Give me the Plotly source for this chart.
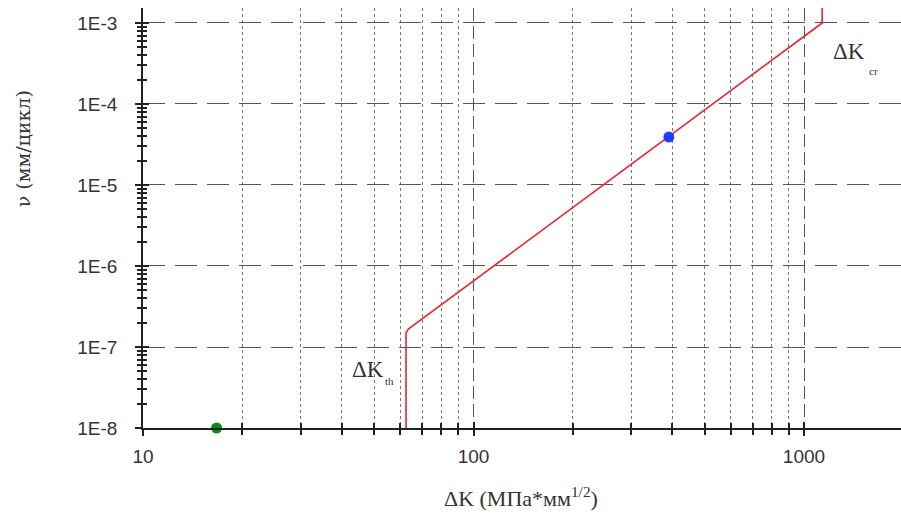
import plotly.graph_objects as go
import math

# Crack growth curve: threshold, Paris region, critical
dk_curve = [62.5, 62.5, 63.5, 1135, 1135]
v_curve = [1e-8, 1.5e-7, 1.66e-7, 1e-3, 1.55e-3]

# Marked points
dk_blue = [390]
v_blue = [3.9e-5]
dk_green = [16.7]
v_green = [1e-8]

y_tickvals = [1e-8, 1e-7, 1e-6, 1e-5, 1e-4, 1e-3]
y_ticktext = ["1E-8", "1E-7", "1E-6", "1E-5", "1E-4", "1E-3"]
x_tickvals = [10, 100, 1000]
x_ticktext = ["10", "100", "1000"]

x_range = [1, 3.2935]
y_range = [-8, -2.815]

# log-spaced minor positions (2..9 within each decade)
x_minor = [m * 10 ** d for d in range(1, 4) for m in range(2, 10)]
y_minor = [m * 10.0 ** d for d in range(-8, -2) for m in range(2, 10)]

serif = "Liberation Serif, Times New Roman, serif"
sans = "Liberation Sans, Arial, sans-serif"
ink = "#333333"

fig = go.Figure()
fig.add_trace(go.Scatter(x=dk_curve, y=v_curve, mode="lines",
                         line=dict(color="#e8262e", width=1.6), showlegend=False))
fig.add_trace(go.Scatter(x=dk_blue, y=v_blue, mode="markers",
                         marker=dict(color="#1f3cff", size=11), showlegend=False))
fig.add_trace(go.Scatter(x=dk_green, y=v_green, mode="markers",
                         marker=dict(color="#0a8a1a", size=11), showlegend=False,
                         cliponaxis=False))

fig.update_xaxes(
    type="log", range=x_range,
    tickvals=x_tickvals, ticktext=x_ticktext,
    tickfont=dict(family=sans, size=19, color=ink),
    ticks="outside", ticklen=6, tickcolor="#222", tickwidth=1.5,
    ticklabelstandoff=4,
    showline=True, linecolor="#222", linewidth=1.5,
    showgrid=True, gridcolor="#555", gridwidth=1, griddash="13px,5px",
    minor=dict(tickvals=x_minor, ticks="outside", ticklen=5, tickcolor="#222",
               showgrid=True, gridcolor="#777", griddash="dot", gridwidth=1),
    zeroline=False,
)
fig.update_yaxes(
    type="log", range=y_range,
    tickvals=y_tickvals, ticktext=y_ticktext,
    tickfont=dict(family=sans, size=19, color=ink),
    ticks="outside", ticklen=6, tickcolor="#222", tickwidth=1.5,
    ticklabelstandoff=14,
    showline=True, linecolor="#222", linewidth=1.5,
    showgrid=True, gridcolor="#555", gridwidth=1, griddash="22px,10px",
    minor=dict(tickvals=y_minor, ticks="outside", ticklen=4, tickcolor="#222",
               showgrid=False),
    zeroline=False,
)

# inner halves of the tick marks, so ticks cross the axis lines
fig.update_layout(
    xaxis2=dict(type="log", range=x_range, overlaying="x", anchor="y", side="bottom",
                tickvals=x_tickvals, showticklabels=False, ticks="inside", ticklen=6,
                tickcolor="#222", tickwidth=1.5, showgrid=False, showline=False,
                zeroline=False,
                minor=dict(tickvals=x_minor, ticks="inside", ticklen=5,
                           tickcolor="#222", showgrid=False)),
    yaxis2=dict(type="log", range=y_range, overlaying="y", anchor="x", side="left",
                tickvals=y_tickvals, showticklabels=False, ticks="inside", ticklen=6,
                tickcolor="#222", tickwidth=1.5, showgrid=False, showline=False,
                zeroline=False,
                minor=dict(tickvals=y_minor, ticks="inside", ticklen=4,
                           tickcolor="#222", showgrid=False)),
)
fig.add_trace(go.Scatter(x=[], y=[], xaxis="x2", yaxis="y2", showlegend=False,
                         hoverinfo="skip"))

# curve labels
label_font = dict(family=serif, size=23, color=ink)
sub_font = dict(family=serif, size=11, color=ink)
fig.add_annotation(x=1.680, y=-7.272, text="ΔK", showarrow=False,
                   xanchor="center", yanchor="middle", font=label_font)
fig.add_annotation(x=1.747, y=-7.42, text="th", showarrow=False,
                   xanchor="center", yanchor="middle", font=sub_font)
fig.add_annotation(x=3.137, y=-3.358, text="ΔK", showarrow=False,
                   xanchor="center", yanchor="middle", font=label_font)
fig.add_annotation(x=3.210, y=-3.593, text="cr", showarrow=False,
                   xanchor="center", yanchor="middle", font=sub_font)

# axis titles
fig.add_annotation(xref="paper", yref="paper", x=-0.158, y=0.664,
                   text="ν (мм/цикл)", textangle=-90, showarrow=False,
                   xanchor="center", yanchor="middle",
                   font=dict(family="DejaVu Serif, serif", size=19, color=ink))
fig.add_annotation(xref="paper", yref="paper", x=0.499, y=-0.164,
                   text="ΔK (МПа*мм<sup>1/2</sup>)", showarrow=False,
                   xanchor="center", yanchor="middle",
                   font=dict(family=serif, size=22, color=ink))

fig.update_layout(
    width=901, height=518,
    margin=dict(l=143, r=0, t=8, b=90),
    plot_bgcolor="white", paper_bgcolor="white",
)

fig.write_html("out.html")
